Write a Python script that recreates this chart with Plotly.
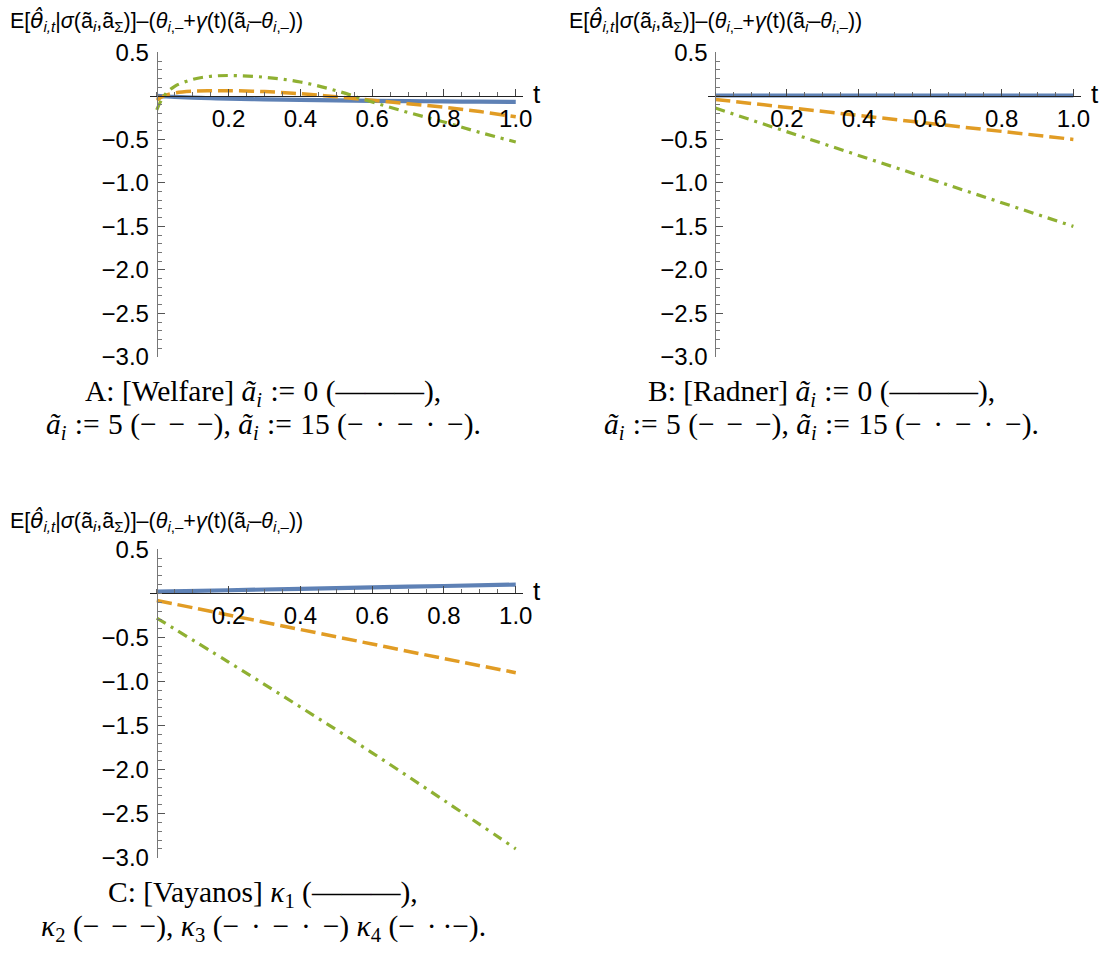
import plotly.graph_objects as go

W, H = 1101, 957
# measured page-to-picture mapping of the photographed page (picture = S * page + O)
SX, OX = 0.989, -1.3
SY, OY = 0.972, 13.6

# ---- data ----
# panel A: Welfare, curved
t_welfare = [0, 0.02, 0.05, 0.1, 0.15, 0.2, 0.3, 0.4, 0.5, 0.6, 0.7, 0.8, 0.9, 1.0]
welfare_a0 = [0.0, -0.005, -0.012, -0.02, -0.027, -0.032, -0.04, -0.046, -0.051, -0.056, -0.06, -0.063, -0.066, -0.068]
welfare_a5 = [-0.05, 0.0, 0.035, 0.055, 0.06, 0.06, 0.05, 0.025, -0.01, -0.05, -0.09, -0.13, -0.18, -0.24]
welfare_a15 = [-0.16, 0.0, 0.11, 0.19, 0.225, 0.235, 0.215, 0.16, 0.06, -0.07, -0.19, -0.30, -0.42, -0.53]

# panel B: Radner, straight lines
t_radner = [0, 1.0]
radner_a0 = [0.005, 0.005]
radner_a5 = [-0.04, -0.5]
radner_a15 = [-0.14, -1.5]

# panel C: Vayanos
t_vayanos = [0, 0.2, 0.4, 0.6, 0.8, 1.0]
vayanos_k1 = [0.02, 0.036, 0.052, 0.068, 0.084, 0.1]
vayanos_k2 = [-0.08, -0.245, -0.41, -0.575, -0.74, -0.9]
vayanos_k3 = [-0.28, -0.78, -1.29, -1.81, -2.35, -2.9]

x_ticks = [0.2, 0.4, 0.6, 0.8, 1.0]
x_ticktext = ["0.2", "0.4", "0.6", "0.8", "1.0"]
y_ticks = [0.5, -0.5, -1.0, -1.5, -2.0, -2.5, -3.0]
y_ticktext = ["0.5", "\u22120.5", "\u22121.0", "\u22121.5", "\u22122.0", "\u22122.5", "\u22123.0"]

THETA_HAT = "<span style=\"font-family:DejaVu Sans\"><i>\u03b8\u0302</i></span>"
ylabel = ("E[" + THETA_HAT + "<sub><i>i,t</i></sub>|<i>\u03c3</i>(\u00e3<sub><i>i</i></sub>,\u00e3<sub>\u03a3</sub>)]"
          "\u2013(<i>\u03b8</i><sub><i>i</i>,\u2013</sub>+<i>\u03b3</i>(t)(\u00e3<sub><i>i</i></sub>\u2013<i>\u03b8</i><sub><i>i</i>,\u2013</sub>))")

SP = "\u2009\u2009"  # wider gap inside the dash patterns
M = "\u2212"
DOT = "\u00b7"
SOLID = "(\u2014\u2014\u2014)"
DASHED = "(" + M + SP + M + SP + M + ")"
DOTDASH = "(" + M + SP + DOT + SP + M + SP + DOT + SP + M + ")"
DOTDOT = "(" + M + SP + DOT + "\u2009" + DOT + M + ")"
A_I = "<i>\u00e3<sub>i</sub></i>"
ASSIGN = "\u2009\u200a:=\u2009\u200a"

captions = {
    "A": ["A: [Welfare] " + A_I + ASSIGN + "0 " + SOLID + ",",
          A_I + ASSIGN + "5 " + DASHED + ", " + A_I + ASSIGN + "15 " + DOTDASH + "."],
    "B": ["B: [Radner] " + A_I + ASSIGN + "0 " + SOLID + ",",
          A_I + ASSIGN + "5 " + DASHED + ", " + A_I + ASSIGN + "15 " + DOTDASH + "."],
    "C": ["C: [Vayanos] <i>\u03ba</i><sub>1</sub> " + SOLID + ",",
          "<i>\u03ba</i><sub>2</sub> " + DASHED + ", <i>\u03ba</i><sub>3</sub> " + DOTDASH
          + " <i>\u03ba</i><sub>4</sub> " + DOTDOT + "."],
}

BLUE, ORANGE, GREEN = "#5E81B5", "#E19C24", "#8FB032"
SANS = "Liberation Sans, Arial, sans-serif"
TICKFONT = dict(family=SANS, size=24, color="black")

# panel geometry in picture pixels: t=0 x, px per t unit, y of 0.5, px per y unit
panels = {
    "A": dict(x0=155, xs=358, ytop=53, ys=86.9, lab_dy=31, gap=33),
    "B": dict(x0=712, xs=357, ytop=53, ys=86.9, lab_dy=31, gap=33),
    "C": dict(x0=155, xs=358, ytop=549.5, ys=88.0, lab_dy=28, gap=34),
}
XR = [-0.02, 1.02]
YR = [-3.005, 0.505]


def px(x):
    return (x - OX) / SX / W


def py(y):
    return 1 - (y - OY) / SY / H


fig = go.Figure()
series = {
    "A": (t_welfare, [welfare_a0, welfare_a5, welfare_a15], "spline"),
    "B": (t_radner, [radner_a0, radner_a5, radner_a15], "linear"),
    "C": (t_vayanos, [vayanos_k1, vayanos_k2, vayanos_k3], "spline"),
}
styles = [
    dict(color=BLUE, width=4.2, dash="solid"),
    dict(color=ORANGE, width=3.5, dash="15px,6px"),
    dict(color=GREEN, width=3.2, dash="10px,6px,3px,6px"),
]

layout_axes = {}
annotations = []
for i, (name, g) in enumerate(panels.items(), start=1):
    sfx = "" if i == 1 else str(i)
    t, ys, shape = series[name]
    for y, st in zip(ys, styles):
        fig.add_trace(go.Scatter(x=t, y=y, mode="lines", line=dict(shape=shape, **st),
                                 xaxis="x" + sfx, yaxis="y" + sfx, showlegend=False,
                                 hoverinfo="skip"))

    xl = g["x0"] + XR[0] * g["xs"]
    xr = g["x0"] + XR[1] * g["xs"]
    yt = g["ytop"] + (0.5 - YR[1]) * g["ys"]
    yb = g["ytop"] + (0.5 - YR[0]) * g["ys"]
    y_zero = g["ytop"] + 0.5 * g["ys"]

    layout_axes["xaxis" + sfx] = dict(
        domain=[px(xl), px(xr)], range=XR, anchor="free", position=py(y_zero),
        showgrid=False, zeroline=False, showline=True, linecolor="#222", linewidth=1.2,
        ticks="inside", ticklen=7, tickcolor="#444", tickwidth=1,
        tickvals=x_ticks, ticktext=x_ticktext, tickfont=TICKFONT, ticklabelstandoff=1,
        minor=dict(ticks="inside", ticklen=4, tickcolor="#666", dtick=0.05, tick0=0, showgrid=False),
        fixedrange=True,
    )
    layout_axes["yaxis" + sfx] = dict(
        domain=[py(yb), py(yt)], range=YR, anchor="free", position=px(g["x0"]),
        showgrid=False, zeroline=False, showline=True, linecolor="#777", linewidth=1,
        ticks="inside", ticklen=7, tickcolor="#555", tickwidth=1,
        tickvals=y_ticks, ticktext=y_ticktext, tickfont=TICKFONT, ticklabelstandoff=3,
        minor=dict(ticks="inside", ticklen=4, tickcolor="#777", dtick=0.1, tick0=0, showgrid=False),
        fixedrange=True,
    )

    # axis labels
    annotations.append(dict(text=ylabel, x=px(g["x0"] - 148), y=py(g["ytop"] - g["lab_dy"]),
                            xref="paper", yref="paper", xanchor="left", yanchor="middle",
                            showarrow=False, font=dict(family=SANS, size=21.5, color="black")))
    annotations.append(dict(text="t", x=px(xr + 14), y=py(y_zero - 2),
                            xref="paper", yref="paper", xanchor="center", yanchor="middle",
                            showarrow=False, font=dict(family=SANS, size=26, color="black")))
    # caption
    cx = g["x0"] + 106
    for k, line in enumerate(captions[name]):
        annotations.append(dict(text=line, x=px(cx), y=py(yb + 36 + g["gap"] * k),
                                xref="paper", yref="paper", xanchor="center", yanchor="middle",
                                showarrow=False,
                                font=dict(family="Liberation Serif, Times New Roman, serif", size=29.5, color="black")))

fig.update_layout(
    width=W, height=H,
    margin=dict(l=0, r=0, t=0, b=0),
    paper_bgcolor="white", plot_bgcolor="white",
    annotations=annotations,
    **layout_axes,
)

fig.write_html("out.html", config={"displayModeBar": False},
               post_script="document.body.style.margin='0';")
